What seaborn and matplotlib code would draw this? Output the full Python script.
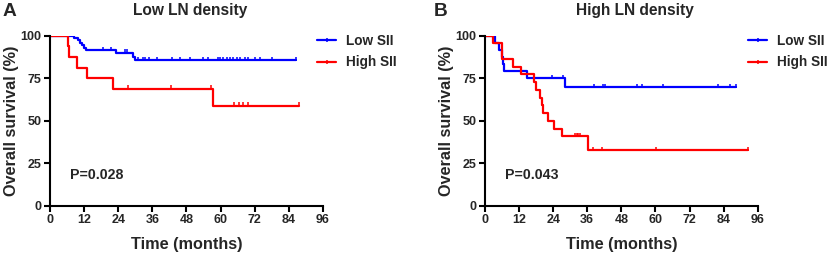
import numpy as np
import pandas as pd
import matplotlib
matplotlib.use('Agg')
import matplotlib.pyplot as plt
from matplotlib.lines import Line2D
import seaborn as sns

# panel A: low LN density
a_low_t = [0, 8.4, 9.8, 10.7, 11.4, 11.9, 12.6, 23.3, 29.2, 29.8, 86.5]
a_low_s = [100, 98.6, 97.2, 95.8, 94.4, 93.0, 91.5, 89.9, 87.7, 85.5, 85.5]
a_low_c = [18.6, 21.6, 26.3, 27.2, 31.0, 32.6, 33.5, 34.9, 37.5, 42.8, 45.7, 49.2,
           53.9, 55.7, 59.0, 59.8, 61.0, 62.2, 63.3, 64.5, 65.6, 66.8, 68.6, 69.7,
           72.1, 73.8, 77.9, 86.5]
a_high_t = [0, 6.2, 6.7, 9.6, 12.9, 22.0, 57.2, 87.7]
a_high_s = [100, 93.75, 87.5, 81.25, 75.0, 68.75, 58.9, 58.9]
a_high_c = [27.5, 42.4, 56.5, 64.8, 66.6, 68.0, 69.7, 87.7]

# panel B: high LN density
b_low_t = [0, 3.5, 5.0, 5.9, 6.3, 6.7, 14.8, 28.3, 88.4]
b_low_s = [100, 95.8, 91.7, 87.5, 83.3, 79.2, 75.0, 69.6, 69.6]
b_low_c = [23.7, 27.6, 38.4, 41.7, 42.4, 53.6, 55.3, 62.6, 82.1, 86.2, 88.4]
b_high_t = [0, 2.9, 5.9, 10.0, 12.6, 17.3, 17.8, 19.4, 20.0, 20.5, 22.3, 24.3,
            27.0, 36.4, 92.7]
b_high_s = [100, 95.5, 86.4, 81.8, 77.3, 72.7, 68.2, 63.6, 59.1, 54.5, 50.0, 45.5,
            40.9, 32.7, 32.7]
b_high_c = [31.7, 32.3, 32.9, 33.5, 38.1, 41.3, 60.1, 92.7]

groups = ['Low SII', 'High SII']
colors = {'Low SII': '#0000FF', 'High SII': '#FF0000'}

sns.set_style('ticks')
plt.rcParams['font.family'] = ['Liberation Sans', 'DejaVu Sans']
plt.rcParams['font.weight'] = 'bold'
plt.rcParams['axes.labelweight'] = 'bold'

fig = plt.figure(figsize=(8.29, 2.56), dpi=100)
W, H = 829, 256


def panel(left, right, title, letter, title_x, letter_x, pval, curves, leg_x):
    ax = fig.add_axes([left / W, 1 - 206 / H, (right - left) / W, (206 - 35.7) / H])
    for name, (t, s, c) in zip(groups, curves):
        df = pd.DataFrame({'time': t, 'surv': s})
        sns.lineplot(data=df, x='time', y='surv', ax=ax, color=colors[name],
                     drawstyle='steps-post', lw=1.6, estimator=None)
        idx = np.searchsorted(t, c, side='right') - 1
        cy = np.array(s)[idx]
        ax.plot(c, cy + 0.9, ls='none', marker='|', ms=3.5, mew=1.1,
                color=colors[name])
    ax.set_xlim(0, 96)
    ax.set_ylim(0, 100)
    ax.set_xticks(range(0, 97, 12))
    ax.set_yticks([0, 25, 50, 75, 100])
    for sp in ['top', 'right']:
        ax.spines[sp].set_visible(False)
    for sp in ['left', 'bottom']:
        ax.spines[sp].set_linewidth(1.5)
        ax.spines[sp].set_color('black')
    ax.tick_params(width=1.5, length=4, labelsize=9, pad=2, color='black')
    for lab in ax.get_xticklabels() + ax.get_yticklabels():
        lab.set_fontweight('bold')
    ax.set_xlabel('Time (months)', fontsize=11.7, fontweight='bold')
    ax.set_ylabel('Overall survival (%)', fontsize=11.7, fontweight='bold')
    ax.xaxis.set_label_coords(0.5, -0.18)
    ax.yaxis.set_label_coords(-0.112, 0.5)
    ax.text(7, 18, pval, fontsize=10.2, fontweight='bold', va='center')
    fig.text(title_x / W, 1 - 11 / H, title, fontsize=11.2, fontweight='bold',
             ha='center', va='center')
    fig.text(letter_x / W, 1 - 12 / H, letter, fontsize=13.8, fontweight='bold',
             ha='left', va='center')
    handles = [Line2D([], [], color=colors[g], lw=1.6, marker='|', ms=3.5, mew=1.1)
               for g in groups]
    fig.legend(handles, groups, loc='upper left', bbox_to_anchor=(leg_x / W, 1 - 34 / H),
               frameon=False, borderpad=0, borderaxespad=0,
               handlelength=1.4, handletextpad=0.75, labelspacing=0.55,
               prop={'weight': 'bold', 'size': 9.8})
    return ax


panel(50, 323, 'Low LN density', 'A', 190, 3, 'P=0.028',
      [(a_low_t, a_low_s, a_low_c), (a_high_t, a_high_s, a_high_c)], 317)
panel(485, 757.7, 'High LN density', 'B', 635, 434, 'P=0.043',
      [(b_low_t, b_low_s, b_low_c), (b_high_t, b_high_s, b_high_c)], 748)

fig.savefig('out.png', dpi=100)
